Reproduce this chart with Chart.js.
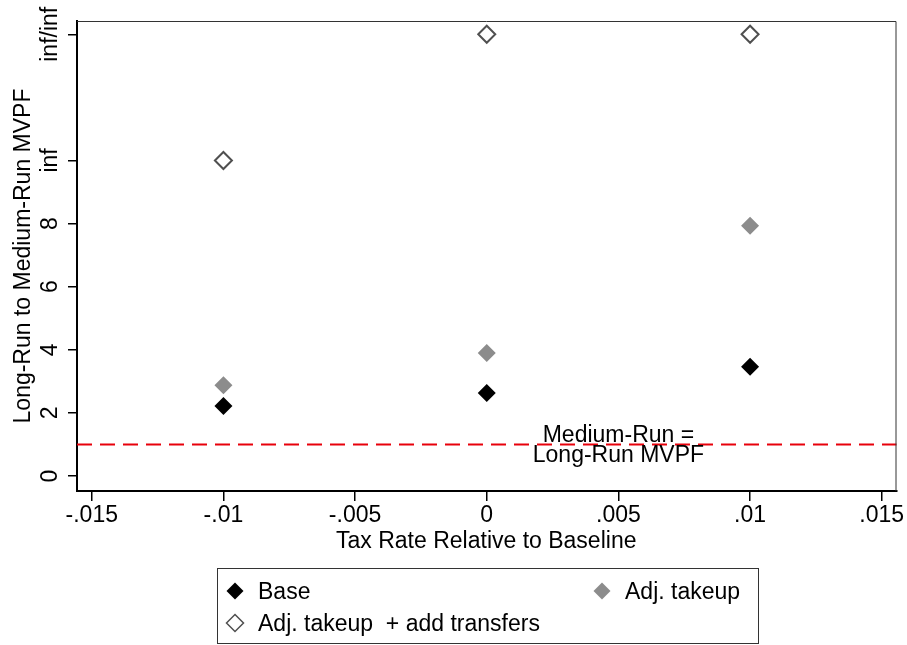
<!DOCTYPE html>
<html>
<head>
<meta charset="utf-8">
<script src="https://cdn.jsdelivr.net/npm/chart.js@4/dist/chart.umd.min.js"></script>
<style>
  body { margin: 0; background: #fff; }
  #wrap { width: 907px; height: 645px; position: relative; }
</style>
</head>
<body>
<div id="wrap"><canvas id="mvpf"></canvas></div>
<script>
const taxRates = [-0.01, 0, 0.01];
const baseMvpf = [2.22, 2.63, 3.46];
const adjTakeupMvpf = [2.88, 3.9, 7.93];
const adjTransfersMvpf = [10, 14, 14];

const xTickValues = [-0.015, -0.01, -0.005, 0, 0.005, 0.01, 0.015];
const xTickLabels = ['-.015', '-.01', '-.005', '0', '.005', '.01', '.015'];
const yTickValues = [0, 2, 4, 6, 8, 10, 14];
const yTickLabels = ['0', '2', '4', '6', '8', 'inf', 'inf/inf'];

const refLineValue = 1;
const refLineText = ['Medium-Run =', 'Long-Run MVPF'];
const refTextX = 0.005;

const FONT = '"Liberation Sans", Arial, Helvetica, sans-serif';

const toPoints = ys => ys.map((y, i) => ({ x: taxRates[i], y: y }));

// stata-ish extras: rotated y labels, frame, ref line, legend box
const stataBits = {
  id: 'stataBits',
  beforeDatasetsDraw(chart) {
    const { ctx, chartArea: a, scales: { x, y } } = chart;
    ctx.save();
    // red dashed line
    const ry = y.getPixelForValue(refLineValue);
    ctx.strokeStyle = '#e8000b';
    ctx.lineWidth = 2;
    ctx.setLineDash([15, 8]);
    ctx.beginPath();
    ctx.moveTo(a.left, ry);
    ctx.lineTo(a.right, ry);
    ctx.stroke();
    ctx.setLineDash([]);
    // text next to it
    ctx.fillStyle = '#000';
    ctx.font = '23px ' + FONT;
    ctx.textAlign = 'center';
    ctx.textBaseline = 'alphabetic';
    const tx = x.getPixelForValue(refTextX);
    ctx.fillText(refLineText[0], tx, ry - 2);
    ctx.fillText(refLineText[1], tx, ry + 18);
    ctx.restore();
  },
  afterDraw(chart) {
    const { ctx, chartArea: a, scales: { x, y } } = chart;
    ctx.save();
    // top / right frame
    ctx.strokeStyle = '#333';
    ctx.lineWidth = 1;
    ctx.beginPath();
    ctx.moveTo(a.left, a.top + 0.5);
    ctx.lineTo(a.right - 0.5, a.top + 0.5);
    ctx.lineTo(a.right - 0.5, a.bottom);
    ctx.stroke();

    // y labels, rotated
    ctx.fillStyle = '#000';
    ctx.font = '23px ' + FONT;
    ctx.textAlign = 'center';
    ctx.textBaseline = 'alphabetic';
    yTickValues.forEach((v, i) => {
      const py = y.getPixelForValue(v);
      ctx.save();
      ctx.translate(57, py);
      ctx.rotate(-Math.PI / 2);
      ctx.fillText(yTickLabels[i], 0, 0);
      ctx.restore();
    });
    // y title
    ctx.save();
    ctx.translate(30, (a.top + a.bottom) / 2);
    ctx.rotate(-Math.PI / 2);
    ctx.fillText('Long-Run to Medium-Run MVPF', 0, 0);
    ctx.restore();
    // x title
    ctx.fillText('Tax Rate Relative to Baseline', (a.left + a.right) / 2 - 0.5, 548);

    // legend
    const bx = 217, by = 568, bw = 541, bh = 75;
    ctx.strokeStyle = '#333';
    ctx.lineWidth = 1;
    ctx.strokeRect(bx + 0.5, by + 0.5, bw, bh);
    const spots = [[235, 591], [602, 591], [235, 623]];
    ctx.font = '23px ' + FONT;
    ctx.textAlign = 'left';
    chart.data.datasets.forEach((ds, i) => {
      const [mx, my] = spots[i];
      ctx.beginPath();
      ctx.moveTo(mx, my - 8.5);
      ctx.lineTo(mx + 8.5, my);
      ctx.lineTo(mx, my + 8.5);
      ctx.lineTo(mx - 8.5, my);
      ctx.closePath();
      if (ds.backgroundColor !== 'transparent') {
        ctx.fillStyle = ds.backgroundColor;
        ctx.fill();
      } else {
        ctx.strokeStyle = ds.borderColor;
        ctx.lineWidth = 1.5;
        ctx.stroke();
      }
      ctx.fillStyle = '#000';
      ctx.fillText(ds.label, mx + 23, my + 8);
    });
    ctx.restore();
  }
};

new Chart(document.getElementById('mvpf'), {
  type: 'scatter',
  data: {
    datasets: [
      {
        label: 'Base',
        data: toPoints(baseMvpf),
        pointStyle: 'rectRot',
        pointRadius: 9,
        backgroundColor: '#000',
        borderColor: '#000',
        borderWidth: 0
      },
      {
        label: 'Adj. takeup',
        data: toPoints(adjTakeupMvpf),
        pointStyle: 'rectRot',
        pointRadius: 9,
        backgroundColor: '#8c8c8c',
        borderColor: '#8c8c8c',
        borderWidth: 0
      },
      {
        label: 'Adj. takeup  + add transfers',
        data: toPoints(adjTransfersMvpf),
        pointStyle: 'rectRot',
        pointRadius: 8.5,
        backgroundColor: 'transparent',
        borderColor: '#505050',
        borderWidth: 2
      }
    ]
  },
  options: {
    responsive: true,
    maintainAspectRatio: false,
    animation: false,
    layout: { padding: { top: 21, right: 10, left: 0, bottom: 0 } },
    plugins: {
      legend: { display: false },
      tooltip: { enabled: false }
    },
    scales: {
      x: {
        type: 'linear',
        min: -0.01556,
        max: 0.01556,
        afterBuildTicks: s => { s.ticks = xTickValues.map(v => ({ value: v })); },
        afterFit: s => { s.height = 154; },
        ticks: {
          color: '#000',
          font: { size: 23, family: FONT },
          padding: 1,
          maxRotation: 0,
          autoSkip: false,
          callback: (v) => xTickLabels[xTickValues.indexOf(v)]
        },
        grid: { drawOnChartArea: false, drawTicks: true, tickLength: 10, color: '#000', lineWidth: 1.5 },
        border: { display: true, color: '#000', width: 2 }
      },
      y: {
        type: 'linear',
        min: -0.475,
        max: 14.42,
        afterBuildTicks: s => { s.ticks = yTickValues.map(v => ({ value: v })); },
        afterFit: s => { s.width = 77; },
        ticks: { color: 'transparent', font: { size: 23, family: FONT } },
        grid: { drawOnChartArea: false, drawTicks: true, tickLength: 9, color: '#000', lineWidth: 1.5 },
        border: { display: true, color: '#000', width: 2 }
      }
    }
  },
  plugins: [stataBits]
});
</script>
</body>
</html>
